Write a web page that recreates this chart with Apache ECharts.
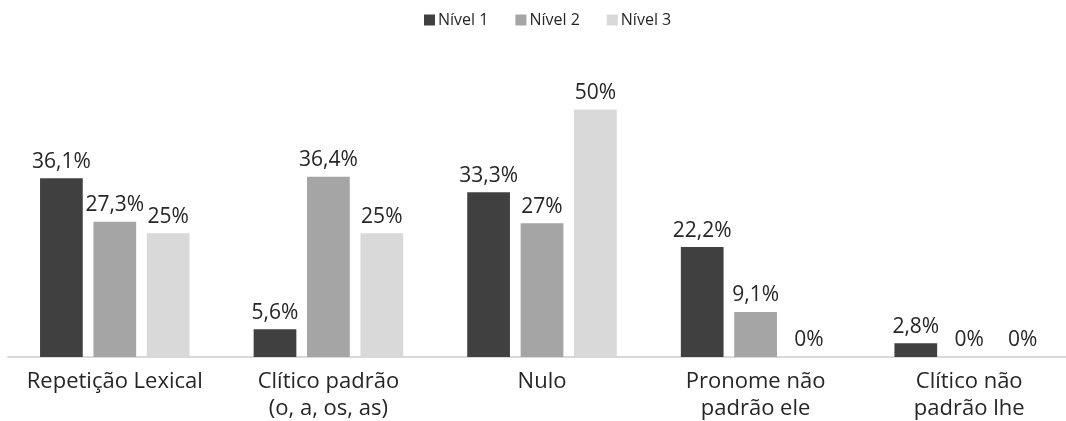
<!DOCTYPE html>
<html>
<head>
<meta charset="utf-8">
<title>Níveis</title>
<script src="https://cdn.jsdelivr.net/npm/echarts@6/dist/echarts.min.js"></script>
<style>
  html, body { margin: 0; padding: 0; background: #fff; }
  #chart { width: 1066px; height: 421px; }
</style>
</head>
<body>
<div id="chart"></div>
<script>
// categorias e valores (%)
const categories = ['Repetição Lexical', 'Clítico padrão\n(o, a, os, as)', 'Nulo', 'Pronome não\npadrão ele', 'Clítico não\npadrão lhe']
const nivel1 = [36.1, 5.6, 33.3, 22.2, 2.8]
const nivel2 = [27.3, 36.4, 27, 9.1, 0]
const nivel3 = [25, 25, 50, 0, 0]
const seriesNames = ['Nível 1', 'Nível 2', 'Nível 3']
const colors = ['#404040', '#a5a5a5', '#d9d9d9']

const font = '"Open Sans", "DejaVu Sans", sans-serif'
const textColor = '#262626'

function fmt(p) {
  return String(p.value).replace('.', ',') + '%'
}

function makeSeries(name, data, color) {
  return {
    name: name,
    type: 'bar',
    data: data,
    barWidth: '20%',
    barGap: '25%',
    itemStyle: { color: color },
    label: {
      show: true,
      position: 'top',
      distance: 6,
      formatter: fmt,
      color: textColor,
      fontFamily: font,
      fontSize: 21
    }
  }
}

let mychart = echarts.init(document.getElementById('chart'))
mychart.setOption({
  animation: false,
  color: colors,
  legend: {
    top: 7,
    left: 419,
    itemWidth: 11,
    itemHeight: 11,
    itemGap: 27,
    icon: 'rect',
    textStyle: { color: textColor, fontFamily: font, fontSize: 16, padding: [0, 0, 0, -2] },
    data: seriesNames
  },
  grid: {
    left: 8,
    right: -10,
    top: 60,
    bottom: 64,
    outerBoundsMode: 'none'
  },
  xAxis: {
    type: 'category',
    data: categories,
    axisLine: { lineStyle: { color: '#d9d9d9', width: 2 } },
    axisTick: { show: false },
    axisLabel: {
      color: textColor,
      fontFamily: font,
      fontSize: 22,
      lineHeight: 27,
      margin: 11,
      interval: 0
    }
  },
  yAxis: {
    type: 'value',
    min: 0,
    max: 60,
    show: false,
    splitLine: { show: false }
  },
  series: [
    makeSeries(seriesNames[0], nivel1, colors[0]),
    makeSeries(seriesNames[1], nivel2, colors[1]),
    makeSeries(seriesNames[2], nivel3, colors[2])
  ]
})
</script>
</body>
</html>
